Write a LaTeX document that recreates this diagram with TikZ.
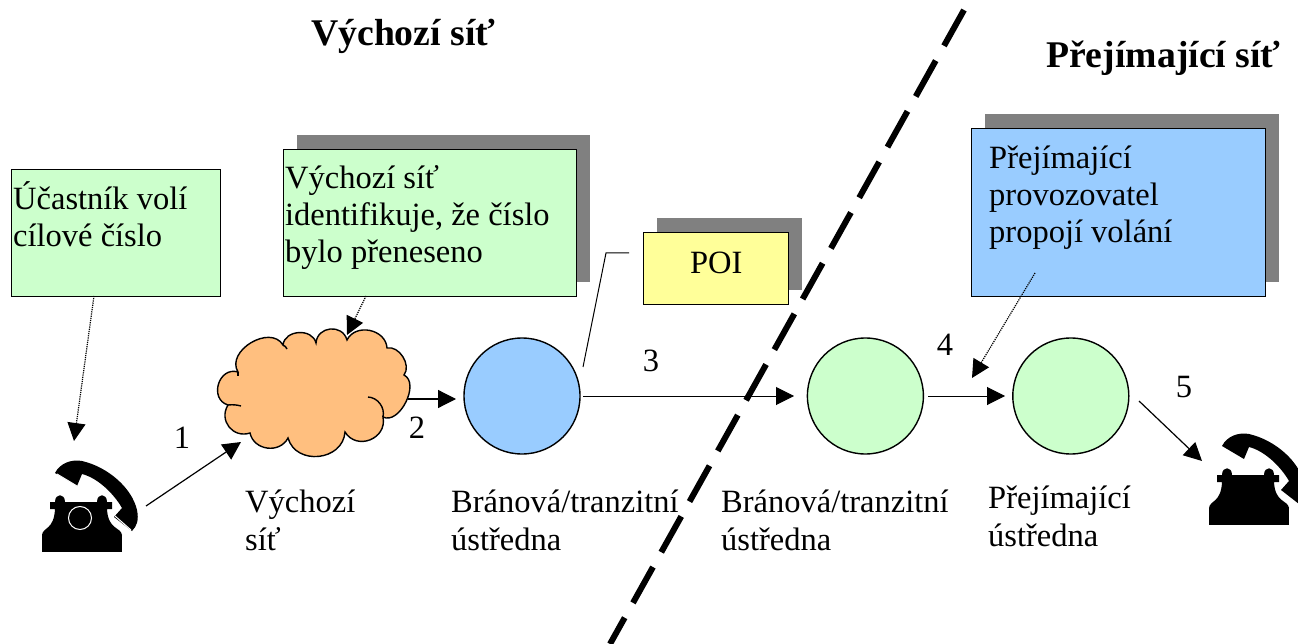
\documentclass[tikz,border=0pt]{standalone}
\usepackage{fontspec}
\setmainfont{Liberation Serif}
\usepackage{xcolor}
\usetikzlibrary{arrows.meta,positioning,shadows}
\definecolor{boxgreen}{HTML}{CCFFCC}
\definecolor{boxblue}{HTML}{99CCFF}
\definecolor{boxyellow}{HTML}{FFFF99}
\definecolor{cloudorange}{HTML}{FFBF7F}
\definecolor{shadowgray}{HTML}{808080}
\begin{document}
\begin{tikzpicture}[
    x=1pt, y=-1pt,
    font=\fontsize{32.5}{37}\selectfont,
    tip/.style={-{Triangle[length=18pt,width=18pt]}},
    note/.style={draw, line width=1.4pt, anchor=north west, align=flush left, inner xsep=1.5pt, inner ysep=0pt},
    shadowed/.style={copy shadow={shadow xshift=13pt, shadow yshift=15pt, fill=shadowgray, draw=none}},
    gate/.style={draw, circle, line width=1.4pt, minimum size=116pt, inner sep=0pt},
    title/.style={font=\fontsize{37.7}{44}\selectfont\bfseries, anchor=base west, inner sep=0pt},
    caption/.style={anchor=north west, align=flush left, inner sep=0pt, font=\fontsize{32.5}{38}\selectfont},
    digit/.style={inner sep=0pt},
    phone/.pic={
      \fill (42,535) rectangle (122,552);
      \fill (42,535) .. controls (43,527) and (54,530) .. (55,509) -- (50,509) -- (50,502) -- (55,502)
        .. controls (55,493) and (65,493) .. (65,502) -- (97,502)
        .. controls (97,493) and (107,493) .. (107,502) -- (112,502) -- (112,509) -- (107,509)
        .. controls (108,530) and (121,527) .. (122,535) -- cycle;
      \fill (55,473) .. controls (60,463) and (72,459) .. (82,461)
        .. controls (108,467) and (132,488) .. (137,510)
        .. controls (139,520) and (137,526) .. (132,531) -- (114,517) -- (122,508)
        .. controls (114,494) and (98,478) .. (82,474) -- (77,486) -- cycle;
    },
  ]
    \useasboundingbox (0,0) rectangle (1298,644);
    % titles
    \node[title] (titleA) at (311,46) {Výchozí síť};
    \node[title] (titleB) at (1046,68) {Přejímající síť};
    % note boxes
    \node[note, fill=boxgreen, text width=206pt, text height=40pt, text depth=87pt] (dial) at (11,169) {Účastník volí\\cílové číslo};
    \node[note, shadowed, fill=boxgreen, text width=290pt, text height=39pt, text depth=108pt] (detect) at (283,149) {Výchozí síť\\identifikuje, že číslo\\bylo přeneseno};
    \node[note, shadowed, fill=boxyellow, text width=142pt, text height=41pt, text depth=31pt, align=center] (poi) at (643,232) {POI};
    \node[note, shadowed, fill=boxblue, text width=291pt, text height=40pt, text depth=128pt] (carrier) at (971,128) {\hspace{16pt}Přejímající\\\hspace{16pt}provozovatel\\\hspace{16pt}propojí volání};
    % cloud
    \path (313,393) node[inner sep=0pt, minimum width=189pt, minimum height=126pt] (cloud) {};
    \draw[fill=cloudorange, line width=1.4pt] (228,405) to[bend left=90, looseness=1.5] (238,372) to[bend left=90, looseness=1.2] (283,345)
      to[bend left=80, looseness=1.2] (316,343) to[bend left=80, looseness=1.4] (347,340) to[bend left=75, looseness=1.2] (387,348)
      to[bend left=70] (404,375) to[bend left=90] (383,417) to[bend left=80, looseness=1.4] (345,432)
      to[bend left=80, looseness=1.3] (288,438) to[bend left=70, looseness=1.2] (250,433) to[bend left=70, looseness=1.3] (228,405) -- cycle;
    \draw[line width=1.4pt] (228,405) to[bend left=10] (241,406);
    \draw[line width=1.4pt] (238,372) -- (238,376);
    \draw[line width=1.4pt] (283,345) to[bend left=20] (287,349);
    \draw[line width=1.4pt] (383,417) to[bend right=50] (368,397);
    % exchanges
    \node[gate, fill=boxblue] (gateA) at (522,396) {};
    \node[gate, fill=boxgreen, right=226pt of gateA] (gateB) {};
    \node[gate, fill=boxgreen, right=88pt of gateB] (target) {};
    % captions
    \node[caption] (capCloud) at (245,490) {Výchozí\\síť};
    \node[caption] (capA) at (451,490) {Bránová/tranzitní\\ústředna};
    \node[caption] (capB) at (721,490) {Bránová/tranzitní\\ústředna};
    \node[caption] (capT) at (988,486) {Přejímající\\ústředna};
    % phones
    \pic at (0,0) {phone};
    \pic at (1167,-27) {phone};
    \draw[white, line width=1pt] (80,518) circle (11.5);
    \draw[white, line width=1pt] (57,474) -- (77,486) (115,516) -- (131,530);
    % boundary
    \coordinate (cutTop) at (964,10);
    \coordinate (cutBot) at (610,644);
    \draw[line width=6pt, dash pattern=on 41pt off 17pt] (cutTop) -- (cutBot);
    % connectors
    \coordinate (phoneOut) at (146,506);
    \coordinate (cloudIn) at (241,442);
    \coordinate (phoneIn) at (1202,461);
    \coordinate (outT) at (1139,401);
    \coordinate (phoneTop) at (74,441);
    \coordinate (cloudTop) at (347,335);
    \coordinate (targetIn) at (972,378);
    \coordinate (dialOut) at (94,296);
    \coordinate (detectOut) at (366,296);
    \coordinate (carrierOut) at (1035,273);
    \coordinate (bendA) at (606,253);
    \coordinate (bendB) at (629,253);
    \coordinate (gateAtop) at (583,367);
    \coordinate (cloudOut) at (408,399);
    \coordinate (gateAin) at (456,399);
    \coordinate (gateAout) at (583,396);
    \coordinate (gateBin) at (794,396);
    \coordinate (gateBout) at (928,396);
    \coordinate (targetWest) at (1005,396);
    \draw[tip, line width=1.2pt] (phoneOut) -- (cloudIn);
    \draw[tip, line width=1.2pt] (cloudOut) -- (gateAin);
    \draw[tip, line width=1pt] (gateAout) -- (gateBin);
    \draw[tip, line width=1pt] (gateBout) -- (targetWest);
    \draw[tip, line width=1.2pt] (outT) -- (phoneIn);
    \draw[tip, densely dotted, line width=1.2pt] (dialOut) -- (phoneTop);
    \draw[tip, densely dotted, line width=1.2pt] (detectOut) -- (cloudTop);
    \draw[tip, densely dotted, line width=1.2pt] (carrierOut) -- (targetIn);
    \draw[line width=1pt] (gateAtop) -- (bendA) -- (bendB);
    % step numbers
    \node[digit] (n1) at (182,438) {1};
    \node[digit] (n2) at (417,428) {2};
    \node[digit] (n3) at (651,361) {3};
    \node[digit] (n4) at (945,345) {4};
    \node[digit] (n5) at (1184,387) {5};
  \end{tikzpicture}
\end{document}
